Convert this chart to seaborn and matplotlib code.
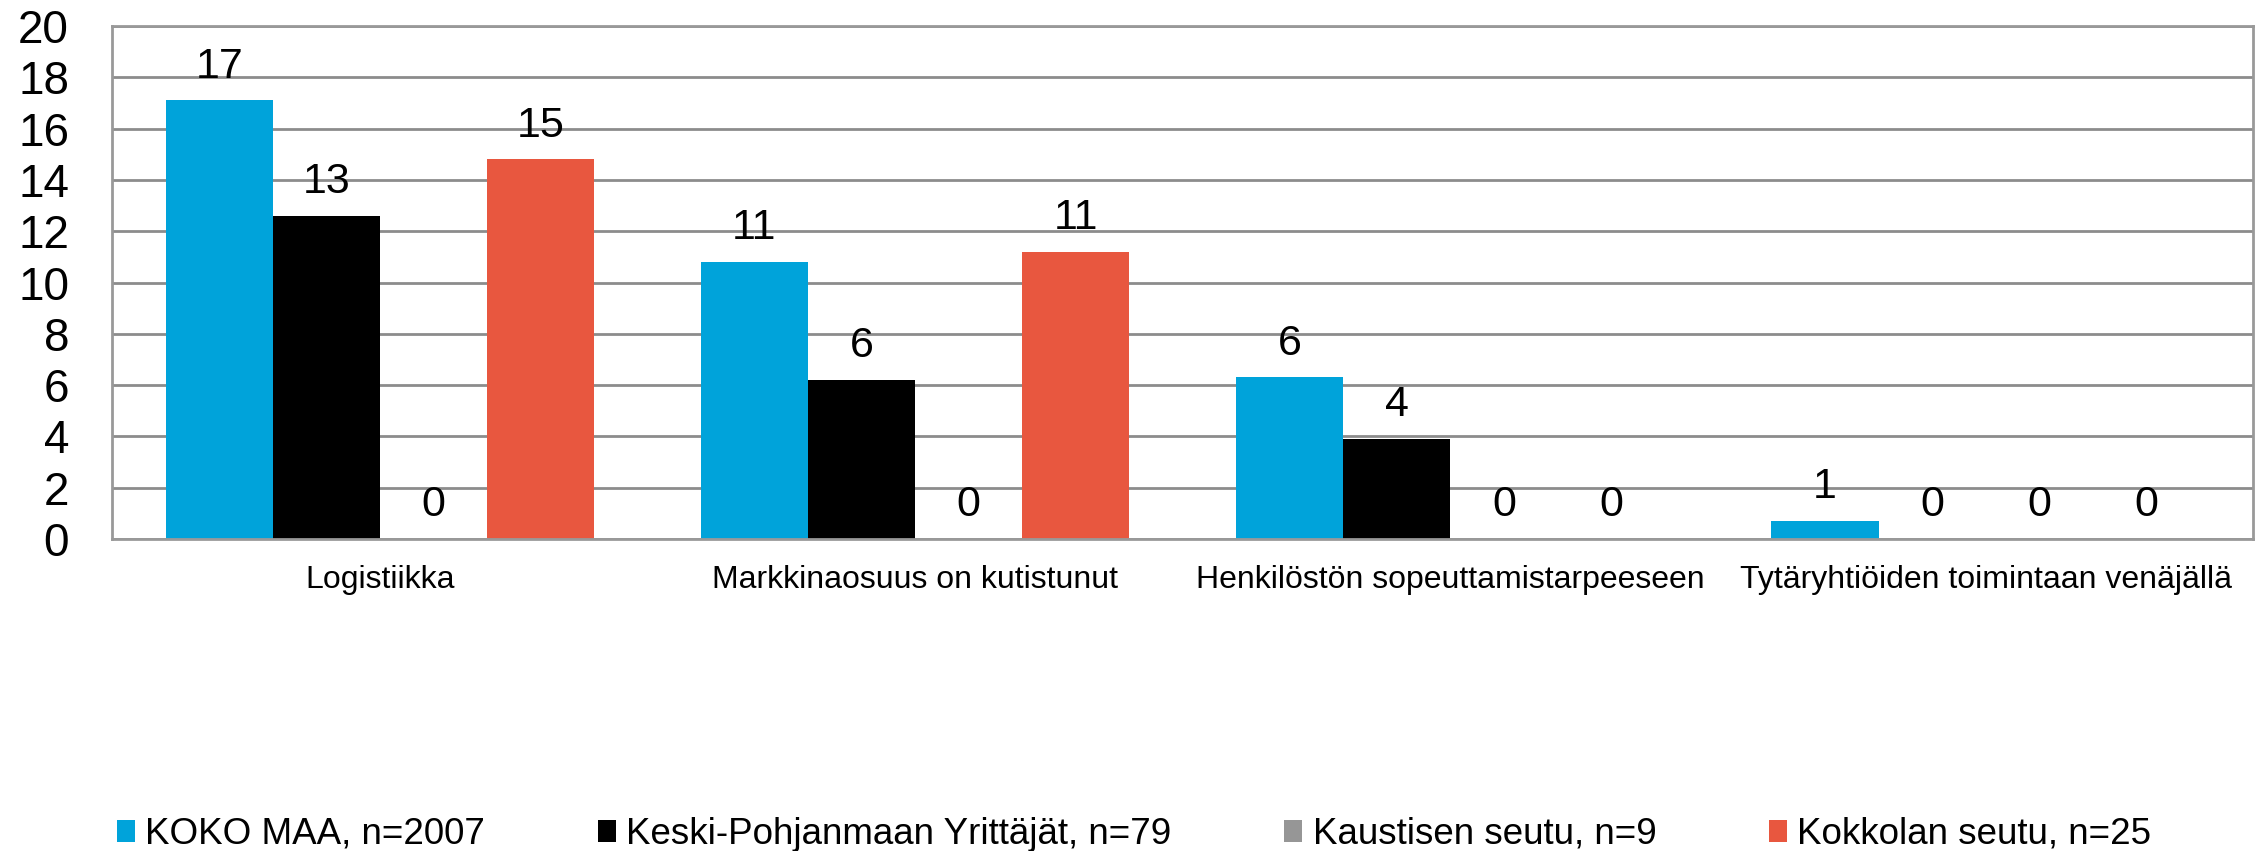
import numpy as np
import pandas as pd
import matplotlib
matplotlib.use("Agg")
import matplotlib.pyplot as plt
import seaborn as sns
from matplotlib.patches import Patch

# Data
categories = ["Logistiikka", "Markkinaosuus on kutistunut",
              "Henkilöstön sopeuttamistarpeeseen", "Tytäryhtiöiden toimintaan venäjällä"]
series = ["KOKO MAA, n=2007", "Keski-Pohjanmaan Yrittäjät, n=79",
          "Kaustisen seutu, n=9", "Kokkolan seutu, n=25"]
koko_maa = [17.1, 10.8, 6.3, 0.7]
keski_pohjanmaa = [12.6, 6.2, 3.9, 0.0]
kaustinen = [0.0, 0.0, 0.0, 0.0]
kokkola = [14.8, 11.2, 0.0, 0.0]
colors = ["#00A3DA", "#000000", "#969696", "#E8573F"]
yticks = list(range(0, 21, 2))

rows = []
for name, vals in zip(series, [koko_maa, keski_pohjanmaa, kaustinen, kokkola]):
    for cat, v in zip(categories, vals):
        rows.append({"kategoria": cat, "sarja": name, "arvo": v})
df = pd.DataFrame(rows)

sns.set_style("white")
plt.rcParams["font.family"] = ["Liberation Sans", "DejaVu Sans"]
plt.rcParams["text.color"] = "black"
plt.rcParams["xtick.color"] = "black"
plt.rcParams["ytick.color"] = "black"

fig = plt.figure(figsize=(22.6, 8.51), dpi=100)
ax = fig.add_axes([0.0496, 0.3666, 0.9474, 0.6028])

sns.barplot(data=df, x="kategoria", y="arvo", hue="sarja", order=categories,
            hue_order=series, palette=colors, width=0.8, saturation=1,
            errorbar=None, ax=ax, legend=False, linewidth=0)

for cont in ax.containers:
    ax.bar_label(cont, fmt="%.0f", padding=10, fontsize=31, color="black")

ax.set_ylim(0, 20)
ax.set_yticks(yticks)
ax.yaxis.grid(True, color="#8c8c8c", linewidth=2)
ax.set_axisbelow(True)
for sp in ax.spines.values():
    sp.set_visible(True)
    sp.set_color("#999999")
    sp.set_linewidth(2)
ax.tick_params(axis="y", labelsize=33, length=0, pad=31, labelcolor="black")
ax.tick_params(axis="x", labelsize=23, length=0, pad=19, labelcolor="black")
ax.set_xlabel("")
ax.set_ylabel("")

handles = [Patch(facecolor=c, edgecolor="none") for c in colors]
fig.legend(handles, series, loc="lower left", bbox_to_anchor=(0.037, -0.04),
           ncol=4, frameon=False, fontsize=26.5, handlelength=0.5,
           handleheight=0.52, handletextpad=0.28, columnspacing=3.05,
           labelcolor="black")

fig.savefig("out.png", dpi=100)
